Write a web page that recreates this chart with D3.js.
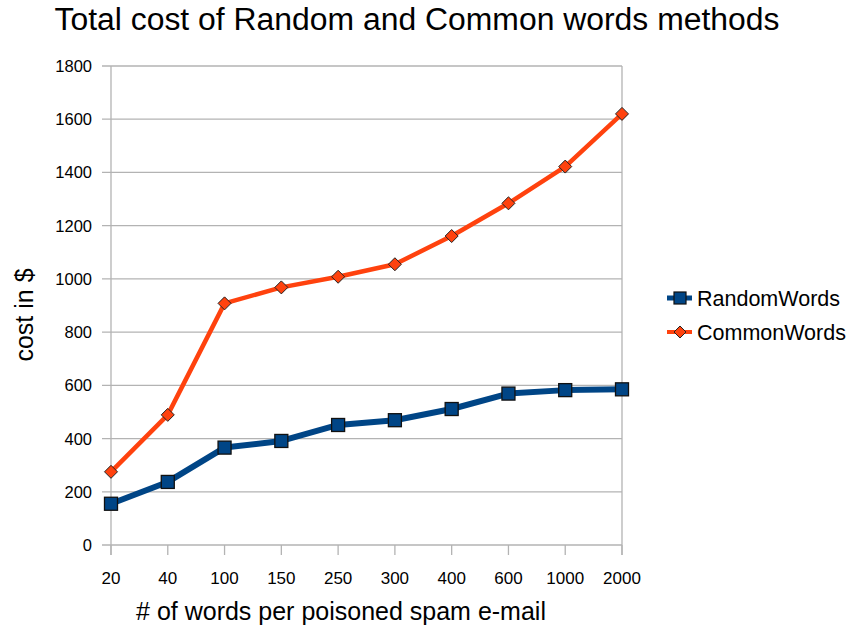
<!DOCTYPE html>
<html>
<head>
<meta charset="utf-8">
<script src="https://cdn.jsdelivr.net/npm/d3@7"></script>
<style>
  html, body { margin: 0; padding: 0; background: #fff; }
  svg { display: block; font-family: "Liberation Sans", Arial, sans-serif; }
</style>
</head>
<body>
<svg id="chart" width="850" height="628"></svg>
<script>
// Words per poisoned spam e-mail (x categories)
const categories = ["20", "40", "100", "150", "250", "300", "400", "600", "1000", "2000"];
// Total cost in $ per method
const randomWords = [155, 237, 366, 391, 451, 469, 511, 569, 582, 585];
const commonWords = [275, 489, 908, 968, 1008, 1055, 1161, 1284, 1422, 1620];
const yTicks = [0, 200, 400, 600, 800, 1000, 1200, 1400, 1600, 1800];
const seriesNames = ["RandomWords", "CommonWords"];

const svg = d3.select("#chart");
const plot = { left: 111, right: 622, top: 66, bottom: 545 };

const x = d3.scalePoint().domain(categories).range([plot.left, plot.right]).padding(0);
const y = d3.scaleLinear().domain([0, 1800]).range([plot.bottom, plot.top]);

const gridColor = "#b3b3b3";

// Title
svg.append("text")
  .attr("x", 417).attr("y", 30)
  .attr("text-anchor", "middle")
  .attr("font-size", 31)
  .attr("textLength", 725).attr("lengthAdjust", "spacingAndGlyphs")
  .attr("fill", "#000")
  .text("Total cost of Random and Common words methods");

// Horizontal grid lines with left tick stubs
svg.append("g").selectAll("line").data(yTicks).join("line")
  .attr("x1", plot.left - 9).attr("x2", plot.right)
  .attr("y1", d => y(d)).attr("y2", d => y(d))
  .attr("stroke", gridColor).attr("stroke-width", 1.3);

// Left axis line and right border
svg.append("line").attr("x1", plot.left).attr("x2", plot.left).attr("y1", plot.top).attr("y2", plot.bottom + 10)
  .attr("stroke", gridColor).attr("stroke-width", 1.3);
svg.append("line").attr("x1", plot.right).attr("x2", plot.right).attr("y1", plot.top).attr("y2", plot.bottom + 10)
  .attr("stroke", gridColor).attr("stroke-width", 1.3);

// Bottom tick stubs
svg.append("g").selectAll("line").data(categories).join("line")
  .attr("x1", d => x(d)).attr("x2", d => x(d))
  .attr("y1", plot.bottom).attr("y2", plot.bottom + 10)
  .attr("stroke", gridColor).attr("stroke-width", 1.3);

// Y tick labels
svg.append("g").selectAll("text").data(yTicks).join("text")
  .attr("x", 92).attr("y", d => y(d) + 6)
  .attr("text-anchor", "end")
  .attr("font-size", 16.5)
  .attr("fill", "#000")
  .text(d => d);

// X tick labels
svg.append("g").selectAll("text").data(categories).join("text")
  .attr("x", d => x(d)).attr("y", 584)
  .attr("text-anchor", "middle")
  .attr("font-size", 17)
  .attr("fill", "#000")
  .text(d => d);

// Axis titles
svg.append("text")
  .attr("x", 341).attr("y", 620)
  .attr("text-anchor", "middle")
  .attr("font-size", 25)
  .attr("fill", "#000")
  .text("# of words per poisoned spam e-mail");

svg.append("text")
  .attr("transform", "translate(33,315) rotate(-90)")
  .attr("text-anchor", "middle")
  .attr("font-size", 25)
  .attr("fill", "#000")
  .text("cost in $");

const line = d3.line()
  .x((d, i) => x(categories[i]))
  .y(d => y(d));

const blue = "#004586", orange = "#ff420e";

// CommonWords series
svg.append("path").datum(commonWords)
  .attr("d", line).attr("fill", "none")
  .attr("stroke", orange).attr("stroke-width", 4.5)
  .attr("stroke-linejoin", "round");

// RandomWords series
svg.append("path").datum(randomWords)
  .attr("d", line).attr("fill", "none")
  .attr("stroke", blue).attr("stroke-width", 6)
  .attr("stroke-linejoin", "round");

const diamond = (cx, cy, r) => `M${cx},${cy - r}L${cx + r},${cy}L${cx},${cy + r}L${cx - r},${cy}Z`;

svg.append("g").selectAll("path").data(commonWords).join("path")
  .attr("d", (d, i) => diamond(x(categories[i]), y(d), 6.5))
  .attr("fill", orange).attr("stroke", "#222").attr("stroke-width", 1);

svg.append("g").selectAll("rect").data(randomWords).join("rect")
  .attr("x", (d, i) => x(categories[i]) - 6.5)
  .attr("y", d => y(d) - 6.5)
  .attr("width", 13).attr("height", 13)
  .attr("fill", blue).attr("stroke", "#111").attr("stroke-width", 1.3);

// Legend
const legend = svg.append("g");
const legendRows = [
  { name: seriesNames[0], color: blue, y: 298, w: 5 },
  { name: seriesNames[1], color: orange, y: 332, w: 4 }
];
legendRows.forEach((r, i) => {
  legend.append("line").attr("x1", 667).attr("x2", 692).attr("y1", r.y).attr("y2", r.y)
    .attr("stroke", r.color).attr("stroke-width", r.w);
  if (i === 0) {
    legend.append("rect").attr("x", 674).attr("y", r.y - 6).attr("width", 12).attr("height", 12)
      .attr("fill", blue).attr("stroke", "#111").attr("stroke-width", 1.2);
  } else {
    legend.append("path").attr("d", diamond(680, r.y, 6))
      .attr("fill", orange).attr("stroke", "#222").attr("stroke-width", 1);
  }
  legend.append("text").attr("x", 697).attr("y", r.y + 8)
    .attr("font-size", 21.5).attr("fill", "#000").text(r.name);
});
</script>
</body>
</html>
